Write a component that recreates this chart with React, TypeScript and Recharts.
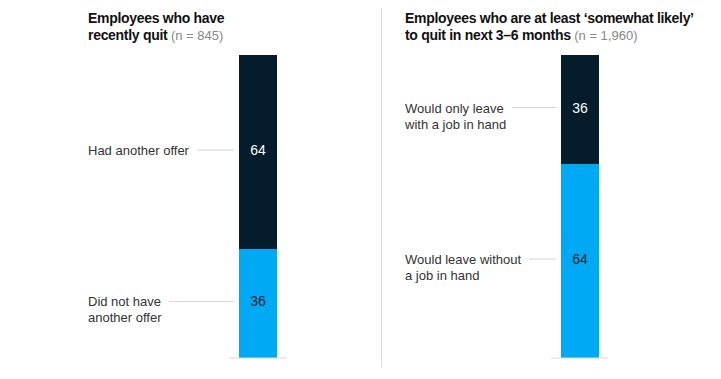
import { BarChart, Bar, XAxis, YAxis, LabelList, ReferenceLine } from "recharts"

const DARK = "#051C2C"
const BLUE = "#00A9F4"
const FONT = "'Liberation Sans', Arial, sans-serif"

// left panel: employees who have recently quit
const quitLabels = [["Did not have", "another offer"], ["Had another offer"]]
const quitValues = [36, 64]

// right panel: employees likely to quit in next 3-6 months
const likelyLabels = [["Would leave without", "a job in hand"], ["Would only leave", "with a job in hand"]]
const likelyValues = [64, 36]

const segmentColors = [BLUE, DARK]
const valueColors = [DARK, "#ffffff"]

let ctx: CanvasRenderingContext2D | null = null
function textWidth(s: string) {
  if (!ctx) ctx = document.createElement("canvas").getContext("2d")
  if (!ctx) return s.length * 6.5
  ctx.font = `13px ${FONT}`
  return ctx.measureText(s).width
}

function makeLabel(lines: string[], textX: number, color: string) {
  return (props: any) => {
    const x = Number(props.x)
    const y = Number(props.y)
    const w = Number(props.width)
    const h = Number(props.height)
    const cy = y + h / 2 - 2
    const lineStart = textX + textWidth(lines[0]) + 8
    return (
      <g>
        <line x1={lineStart} x2={x - 5} y1={cy} y2={cy} stroke="#d4d4d4" strokeWidth={1} />
        <text x={textX} y={cy} fontSize={13} fontFamily={FONT} fill="#333" dominantBaseline="central">
          {lines.map((l, i) => (
            <tspan key={i} x={textX} dy={i === 0 ? 0 : 16}>
              {l}
            </tspan>
          ))}
        </text>
        <text
          x={x + w / 2}
          y={cy}
          textAnchor="middle"
          dominantBaseline="central"
          fontSize={14}
          fontFamily={FONT}
          fill={color}
        >
          {props.value}
        </text>
      </g>
    )
  }
}

function Panel({
  labels,
  values,
  width,
  margin,
  textX,
}: {
  labels: string[][]
  values: number[]
  width: number
  margin: { top: number; right: number; bottom: number; left: number }
  textX: number
}) {
  const row: Record<string, any> = { name: "all" }
  values.forEach((v, i) => (row[`s${i}`] = v))
  return (
    <BarChart width={width} height={379} data={[row]} margin={margin} barCategoryGap={0}>
      <XAxis dataKey="name" hide />
      <YAxis domain={[0, 100]} hide />
      <ReferenceLine y={0} stroke="#d9d9d9" strokeWidth={1} ifOverflow="extendDomain" />
      {values.map((_, i) => (
        <Bar key={i} dataKey={`s${i}`} stackId="a" fill={segmentColors[i]} barSize={38} isAnimationActive={false}>
          <LabelList dataKey={`s${i}`} content={makeLabel(labels[i], textX, valueColors[i])} />
        </Bar>
      ))}
    </BarChart>
  )
}

const titleStyle: React.CSSProperties = {
  position: "absolute",
  top: 10,
  fontFamily: FONT,
  fontWeight: 700,
  fontSize: 14,
  letterSpacing: -0.3,
  lineHeight: "17px",
  color: "#111",
  whiteSpace: "nowrap",
}
const nStyle: React.CSSProperties = { fontWeight: 400, fontSize: 13, letterSpacing: 0, color: "#888" }

export default function App() {
  return (
    <div style={{ position: "absolute", left: 0, top: 0, width: 721, height: 379, background: "#fff" }}>
      <div style={{ position: "absolute", left: 0, top: 0 }}>
        <Panel
          labels={quitLabels}
          values={quitValues}
          width={360}
          margin={{ top: 55, right: 73, bottom: 21, left: 229 }}
          textX={88}
        />
      </div>
      <div style={{ position: "absolute", left: 360, top: 0 }}>
        <Panel
          labels={likelyLabels}
          values={likelyValues}
          width={361}
          margin={{ top: 55, right: 113, bottom: 21, left: 191 }}
          textX={45}
        />
      </div>
      <div style={{ position: "absolute", left: 381, top: 8, width: 1, height: 359, background: "#dcdcdc" }} />
      <div style={{ ...titleStyle, left: 88 }}>
        Employees who have
        <br />
        recently quit <span style={nStyle}>(n = 845)</span>
      </div>
      <div style={{ ...titleStyle, left: 405 }}>
        Employees who are at least ‘somewhat likely’
        <br />
        to quit in next 3–6 months <span style={nStyle}>(n = 1,960)</span>
      </div>
    </div>
  )
}
